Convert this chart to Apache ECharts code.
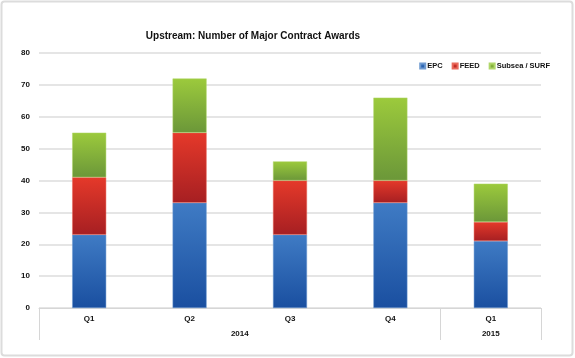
<!DOCTYPE html>
<html><head><meta charset="utf-8">
<script src="https://cdn.jsdelivr.net/npm/echarts@6/dist/echarts.min.js"></script>
<style>html,body{margin:0;padding:0;background:#fff}#c{width:575px;height:358px}</style>
</head><body><div id="c"></div>
<script>
var quarters = ['Q1','Q2','Q3','Q4','Q1'];
var years = ['2014','2014','2014','2014','2015'];
var epc = [23,33,23,33,21];
var feed = [18,22,17,7,6];
var subsea = [14,17,6,26,12];
var yTicks = [0,10,20,30,40,50,60,70,80];
var titleText = 'Upstream: Number of Major Contract Awards';
var seriesNames = ['EPC','FEED','Subsea / SURF'];

// year group spans
var groups = [];
years.forEach(function(y,i){
  if(groups.length && groups[groups.length-1].name===y){groups[groups.length-1].end=i+1;}
  else groups.push({name:y,start:i,end:i+1});
});
var yearLabelPos = groups.map(function(g){return (g.start+g.end)/2;});
var yearTickPos = [0].concat(groups.map(function(g){return g.end;}));

function grad(top,bot){
  return new echarts.graphic.LinearGradient(0,0,0,1,[{offset:0,color:top},{offset:1,color:bot}]);
}
var font = '"Liberation Sans Narrow","Arial Narrow","Liberation Sans",Arial,sans-serif';
var chart = echarts.init(document.getElementById('c'));
chart.setOption({
  animation:false,
  textStyle:{fontFamily:font},
  graphic:[{type:'rect',shape:{x:1.5,y:1.5,width:571,height:354,r:3},style:{fill:'none',stroke:'#dcdcdc',lineWidth:2},silent:true}],
  title:{text:titleText,left:248,top:26,textAlign:'center',textStyle:{fontFamily:font,fontWeight:'bold',fontSize:10,color:'#111'}},
  legend:{right:20,top:57,itemWidth:5,itemHeight:5,itemGap:9,icon:'rect',
    textStyle:{fontFamily:font,fontWeight:'bold',fontSize:7.5,color:'#111',padding:[0,0,0,-3]},
    data:seriesNames},
  grid:{left:39,right:34,top:53,bottom:50},
  xAxis:[{type:'category',data:quarters,boundaryGap:true,
    axisLine:{lineStyle:{color:'#d6d6d6',width:1}},axisTick:{show:false},
    axisLabel:{fontFamily:font,fontWeight:'bold',fontSize:8,color:'#111',margin:7}},
   {type:'value',min:0,max:quarters.length,position:'bottom',
    axisLine:{show:false},splitLine:{show:false},
    axisTick:{show:true,customValues:yearTickPos,length:32,lineStyle:{color:'#d6d6d6'}},
    axisLabel:{customValues:yearLabelPos,margin:22,fontFamily:font,fontWeight:'bold',fontSize:8,color:'#111',
      formatter:function(v){for(var i=0;i<groups.length;i++){if(Math.abs(yearLabelPos[i]-v)<1e-6)return groups[i].name;}return '';}}}],
  yAxis:{type:'value',min:yTicks[0],max:yTicks[yTicks.length-1],interval:yTicks[1]-yTicks[0],
    axisLine:{show:false},axisTick:{show:false},
    splitLine:{lineStyle:{color:'#dcdcdc',width:1.5}},
    axisLabel:{fontFamily:font,fontWeight:'bold',fontSize:8,color:'#111',margin:9}},
  series:[
    {name:seriesNames[0],type:'bar',stack:'s',barWidth:34,data:epc,
      itemStyle:{color:grad('#3f7bc4','#1a4fa0'),borderColor:'#6f9ad0',borderWidth:0.5}},
    {name:seriesNames[1],type:'bar',stack:'s',data:feed,
      itemStyle:{color:grad('#e5392a','#a61f22'),borderColor:'#e86a5c',borderWidth:0.5}},
    {name:seriesNames[2],type:'bar',stack:'s',data:subsea,
      itemStyle:{color:grad('#9cca3c','#6b9739'),borderColor:'#b0d66a',borderWidth:0.5}}
  ]
});
</script></body></html>
